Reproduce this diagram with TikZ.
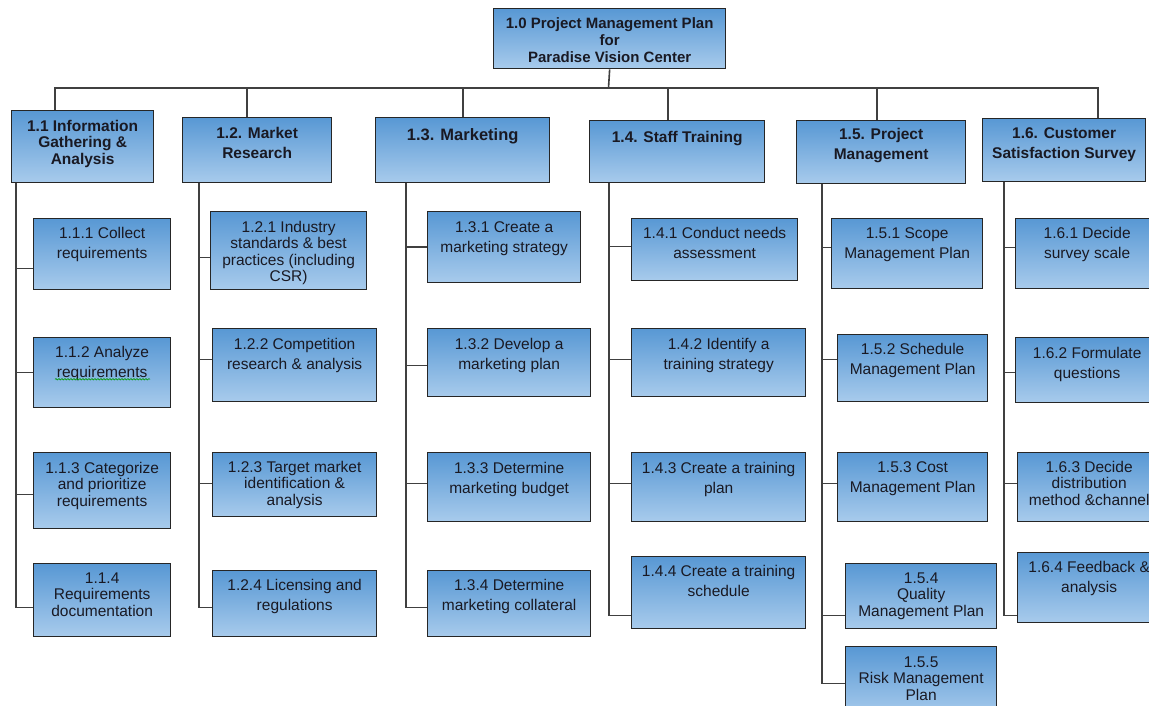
\documentclass[tikz,border=0pt]{standalone}
\usepackage{fontspec}
\setmainfont{Liberation Sans}
\usetikzlibrary{decorations.pathmorphing}

\definecolor{wbstop}{RGB}{88,152,212}
\definecolor{wbsbot}{RGB}{168,203,236}
\definecolor{wbstext}{RGB}{25,25,35}

\tikzset{
  wbsbox/.style={draw=black!85, line width=1.3pt, top color=wbstop, bottom color=wbsbot,
                 inner sep=0pt, anchor=north west, text=wbstext},
  rootbox/.style={wbsbox, font=\fontsize{15}{17}\selectfont\bfseries},
  phasebox/.style={wbsbox, font=\fontsize{15.5}{16.5}\selectfont\bfseries},
  phasepair/.style={wbsbox, font=\fontsize{15.5}{20}\selectfont\bfseries},
  taskbox/.style={wbsbox, font=\fontsize{15.5}{16.5}\selectfont},
  taskpair/.style={wbsbox, font=\fontsize{15.5}{20}\selectfont},
  conn/.style={draw=black!75, line width=1.6pt},
  spell/.style={draw=green!60!black, line width=0.6pt, decorate,
                decoration={snake, amplitude=0.7pt, segment length=3pt}},
}

% #1 style, #2 first baseline below top, #3 name, #4-#7 x1 y1 x2 y2, #8 text
\newcommand\wbsnode[8]{%
  \pgfmathsetmacro\wbsw{#6-#4}%
  \pgfmathsetmacro\wbsh{#7-#5}%
  \node[#1, minimum width=\wbsw pt, minimum height=\wbsh pt] (#3) at (#4,#5)
    {\parbox[c][\wbsh pt][t]{\wbsw pt}{\centering\rule{0pt}{#2pt}#8\par}};%
}

\begin{document}
\begin{tikzpicture}[x=1pt, y=-1pt]
\useasboundingbox (0,0) rectangle (1149,706);
\fill[white] (0,0) rectangle (1149,706);
\clip (0,0) rectangle (1149,706);

% root
\wbsnode{rootbox}{19.5}{root}{493}{8}{725}{68}{1.0 Project Management Plan\\for\\Paradise Vision Center}

% level 1
\wbsnode{phasebox}{20.5}{p1}{11}{110}{153}{182}{1.1 Information\\Gathering \&\\Analysis}
\wbsnode{phasepair}{20.5}{p2}{182}{117}{331}{182}{1.2. Market\\Research}
\wbsnode{phasepair, font=\fontsize{16.5}{20}\selectfont\bfseries}{23}{p3}{375}{117}{549}{182}{1.3. Marketing}
\wbsnode{phasepair}{21.5}{p4}{589}{120}{764}{182}{1.4. Staff Training}
\wbsnode{phasepair}{18.5}{p5}{796}{120}{965}{183}{1.5. Project\\Management}
\wbsnode{phasepair}{19.5}{p6}{982}{118}{1145}{181}{1.6. Customer\\Satisfaction Survey}

% level 2
\wbsnode{taskpair}{19.5}{t11}{33}{218}{170}{289}{1.1.1 Collect\\requirements}
\wbsnode{taskpair}{19.5}{t12}{33}{337}{170}{407}{1.1.2 Analyze\\requirements}
\wbsnode{taskbox}{20.5}{t13}{33}{452}{170}{528}{1.1.3 Categorize\\and prioritize\\requirements}
\wbsnode{taskbox}{19.5}{t14}{33}{563}{170}{636}{1.1.4\\Requirements\\documentation}

\wbsnode{taskbox}{20.5}{t21}{210}{211}{366}{289}{1.2.1 Industry\\standards \& best\\practices (including\\CSR)}
\wbsnode{taskpair}{20.5}{t22}{212}{328}{376}{401}{1.2.2 Competition\\research \& analysis}
\wbsnode{taskbox}{19.5}{t23}{212}{452}{376}{516}{1.2.3 Target market\\identification \&\\analysis}
\wbsnode{taskpair}{19.5}{t24}{212}{570}{376}{636}{1.2.4 Licensing and\\regulations}

\wbsnode{taskpair}{20.5}{t31}{427}{211}{580}{282}{1.3.1 Create a\\marketing strategy}
\wbsnode{taskpair}{20.5}{t32}{427}{328}{590}{396}{1.3.2 Develop a\\marketing plan}
\wbsnode{taskpair}{20.5}{t33}{427}{452}{590}{521}{1.3.3 Determine\\marketing budget}
\wbsnode{taskpair}{19.5}{t34}{427}{570}{590}{636}{1.3.4 Determine\\marketing collateral}

\wbsnode{taskpair}{19.5}{t41}{631}{218}{797}{280}{1.4.1 Conduct needs\\assessment}
\wbsnode{taskpair}{20.5}{t42}{631}{328}{805}{396}{1.4.2 Identify a\\training strategy}
\wbsnode{taskpair}{20.5}{t43}{631}{452}{805}{521}{1.4.3 Create a training\\plan}
\wbsnode{taskpair}{19.5}{t44}{631}{556}{805}{628}{1.4.4 Create a training\\schedule}

\wbsnode{taskpair}{19.5}{t51}{831}{218}{982}{288}{1.5.1 Scope\\Management Plan}
\wbsnode{taskpair}{19.5}{t52}{837}{334}{987}{401}{1.5.2 Schedule\\Management Plan}
\wbsnode{taskpair}{19.5}{t53}{837}{452}{987}{521}{1.5.3 Cost\\Management Plan}
\wbsnode{taskbox}{19.5}{t54}{845}{563}{996}{628}{1.5.4\\Quality\\Management Plan}
\wbsnode{taskbox}{20.5}{t55}{845}{646}{996}{716}{1.5.5\\Risk Management\\Plan}

\wbsnode{taskpair}{19.5}{t61}{1015}{218}{1158}{288}{1.6.1 Decide\\survey scale}
\wbsnode{taskpair}{20.5}{t62}{1015}{337}{1158}{402}{1.6.2 Formulate\\questions}
\wbsnode{taskbox}{19.5}{t63}{1017}{452}{1160}{521}{1.6.3 Decide\\distribution\\method \&channel}
\wbsnode{taskpair}{19.5}{t64}{1017}{552}{1160}{622}{1.6.4 Feedback \&\\analysis}

% root to level 1
\coordinate (bus) at (608.5,88);
\draw[conn] (root.south) -- (bus);
\draw[conn] (bus) -| ([xshift=44pt]p1.north west);
\draw[conn] (bus) -| ([xshift=65pt]p2.north west);
\draw[conn] (bus) -| ([xshift=88pt]p3.north west);
\draw[conn] (bus) -| ([xshift=79pt]p4.north west);
\draw[conn] (bus) -| ([xshift=81pt]p5.north west);
\draw[conn] (bus) -| ([xshift=116pt]p6.north west);

% level 1 to level 2
\draw[conn] ([xshift=5pt]p1.south west) |- ([yshift=-14.5pt]t11.west);
\draw[conn] ([xshift=5pt]p1.south west) |- (t12.west);
\draw[conn] ([xshift=5pt]p1.south west) |- ([yshift=-4pt]t13.west);
\draw[conn] ([xshift=5pt]p1.south west) |- ([yshift=-7.5pt]t14.west);

\draw[conn] ([xshift=17pt]p2.south west) |- ([yshift=-7pt]t21.west);
\draw[conn] ([xshift=17pt]p2.south west) |- ([yshift=5.5pt]t22.west);
\draw[conn] ([xshift=17pt]p2.south west) |- ([yshift=1pt]t23.west);
\draw[conn] ([xshift=17pt]p2.south west) |- ([yshift=-4pt]t24.west);

\draw[conn] ([xshift=31pt]p3.south west) |- (t31.west);
\draw[conn] ([xshift=31pt]p3.south west) |- ([yshift=-3pt]t32.west);
\draw[conn] ([xshift=31pt]p3.south west) |- ([yshift=3.5pt]t33.west);
\draw[conn] ([xshift=31pt]p3.south west) |- ([yshift=-4pt]t34.west);

\draw[conn] ([xshift=20pt]p4.south west) |- ([yshift=3pt]t41.west);
\draw[conn] ([xshift=20pt]p4.south west) |- ([yshift=3pt]t42.west);
\draw[conn] ([xshift=20pt]p4.south west) |- ([yshift=3.5pt]t43.west);
\draw[conn] ([xshift=20pt]p4.south west) |- ([yshift=-23pt]t44.west);

\draw[conn] ([xshift=26pt]p5.south west) |- ([yshift=6pt]t51.west);
\draw[conn] ([xshift=26pt]p5.south west) |- ([yshift=8.5pt]t52.west);
\draw[conn] ([xshift=26pt]p5.south west) |- ([yshift=3.5pt]t53.west);
\draw[conn] ([xshift=26pt]p5.south west) |- ([yshift=-19.5pt]t54.west);
\draw[conn] ([xshift=26pt]p5.south west) |- ([yshift=-2pt]t55.west);

\draw[conn] ([xshift=22pt]p6.south west) |- ([yshift=6pt]t61.west);
\draw[conn] ([xshift=22pt]p6.south west) |- ([yshift=-2.5pt]t62.west);
\draw[conn] ([xshift=22pt]p6.south west) |- ([yshift=3.5pt]t63.west);
\draw[conn] ([xshift=22pt]p6.south west) |- ([yshift=-28pt]t64.west);

% spell-check squiggle under the second word of 1.1.2
\draw[spell] ([shift={(22pt,29pt)}]t12.south west) -- ([shift={(117pt,29pt)}]t12.south west);
\end{tikzpicture}
\end{document}
